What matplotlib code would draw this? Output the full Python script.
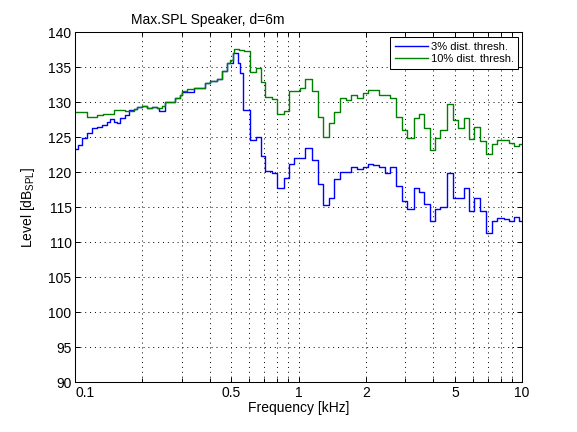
import numpy as np
import matplotlib.pyplot as plt
from matplotlib.ticker import FixedLocator, FixedFormatter, NullFormatter

plt.rcParams['font.family'] = ['Liberation Sans', 'DejaVu Sans']

# step start frequencies [kHz] and levels [dB SPL]
freq_3 = [0.100, 0.1035, 0.1073, 0.113, 0.119, 0.1253, 0.1319, 0.1389, 0.1437,
          0.1487, 0.1539, 0.1593, 0.1677, 0.1736, 0.1827, 0.189, 0.199, 0.210,
          0.221, 0.2324, 0.238, 0.2515, 0.2807, 0.2956, 0.3007, 0.3391, 0.3824,
          0.4026, 0.4312, 0.4541, 0.4781, 0.507, 0.535, 0.548, 0.564, 0.608,
          0.642, 0.681, 0.710, 0.760, 0.800, 0.857, 0.909, 0.957, 1.018, 1.071,
          1.148, 1.217, 1.285, 1.363, 1.434, 1.537, 1.629, 1.715, 1.824, 1.934,
          2.036, 2.151, 2.297, 2.443, 2.572, 2.736, 2.901, 3.054, 3.271, 3.444,
          3.651, 3.857, 4.089, 4.305, 4.612, 4.890, 5.146, 5.476, 5.766, 6.111,
          6.501, 6.892, 7.332, 7.720, 8.25, 8.764, 9.165, 9.650]
lev_3 = [123.4, 123.9, 124.85, 125.57, 126.29, 126.52, 126.76, 127.24, 127.57,
         127.24, 127.1, 127.8, 128.19, 128.9, 129.0, 129.3, 129.47, 129.19,
         129.38, 129.14, 128.75, 130.04, 130.57, 131.05, 131.5, 132.0, 132.71,
         133.05, 133.33, 134.52, 135.57, 137.1, 135.6, 134.14, 128.9, 124.6,
         124.99, 122.33, 120.19, 119.86, 117.71, 119.14, 121.19, 121.99, 122.1, 123.5,
         121.8, 118.4, 115.3, 116.4, 119.04, 120.0, 120.1, 120.8, 120.5, 120.8,
         121.14, 121.0, 120.8, 119.86, 120.8, 118.0, 115.9, 114.76, 117.7, 117.2,
         115.5, 113.04, 114.8, 115.0, 119.86, 116.4, 116.3, 117.7, 114.47, 116.4,
         114.52, 111.4, 113.04, 113.5, 113.4, 113.04, 113.6, 113.1]

freq_10 = [0.100, 0.113, 0.125, 0.134, 0.149, 0.168, 0.183, 0.189, 0.199, 0.210,
           0.221, 0.232, 0.245, 0.252, 0.281, 0.296, 0.301, 0.317, 0.339, 0.382,
           0.403, 0.431, 0.454, 0.478, 0.495, 0.507, 0.512, 0.539, 0.568, 0.608,
           0.642, 0.681, 0.710, 0.760, 0.800, 0.857, 0.909, 1.018, 1.071, 1.148,
           1.217, 1.285, 1.363, 1.434, 1.537, 1.629, 1.715, 1.824, 1.934, 2.036,
           2.297, 2.572, 2.736, 2.901, 3.054, 3.271, 3.444, 3.651, 3.857, 4.089,
           4.305, 4.612, 4.890, 5.146, 5.476, 5.805, 6.111, 6.501, 6.892, 7.332,
           7.720, 8.764, 9.165, 9.650]
lev_10 = [128.57, 127.95, 128.19, 128.4, 128.85, 128.76, 129.0, 129.3, 129.47, 129.19,
          129.38, 129.14, 129.47, 130.04, 130.57, 131.05, 131.66, 131.9, 132.0, 132.71,
          133.05, 133.33, 134.52, 135.57, 136.05, 137.09, 137.61, 137.47, 137.33, 134.38,
          134.86, 132.95, 130.8, 130.42, 128.28, 128.81, 131.62, 132.1, 133.4, 131.6,
          127.94, 125.1, 127.0, 128.6, 130.6, 130.3, 131.05, 130.6, 131.4, 131.7,
          131.1, 130.6, 127.94, 126.1, 124.86, 127.7, 128.3, 126.3, 123.2, 124.86,
          126.1, 129.7, 127.55, 126.4, 127.8, 124.7, 126.5, 124.5, 122.57, 124.0,
          124.6, 124.2, 123.7, 124.1]

f_max = 10.0

xticks = [0.1, 0.5, 1, 2, 5, 10]
xticklabels = ['0.1', '0.5', '1', '2', '5', '10']
xminor = [0.2, 0.3, 0.4, 0.6, 0.7, 0.8, 0.9, 3, 4, 6, 7, 8, 9]
yticks = list(range(90, 141, 5))

fig = plt.figure(figsize=(5.77, 4.32), dpi=100)
ax = fig.add_axes([0.13, 0.115, 0.775, 0.81])

ax.plot(freq_3 + [f_max], lev_3 + [lev_3[-1]], drawstyle='steps-post',
        color='#0000ff', lw=1.0, label='3% dist. thresh.')
ax.plot(freq_10 + [f_max], lev_10 + [lev_10[-1]], drawstyle='steps-post',
        color='#008000', lw=1.0, label='10% dist. thresh.')

ax.set_xscale('log')
ax.set_xlim(0.1, 10)
ax.set_ylim(90, 140)
ax.xaxis.set_major_locator(FixedLocator(xticks))
ax.xaxis.set_major_formatter(FixedFormatter(xticklabels))
ax.xaxis.set_minor_locator(FixedLocator(xminor))
ax.xaxis.set_minor_formatter(NullFormatter())
ax.set_yticks(yticks)

ax.grid(True, which='both', linestyle=(0, (1, 4)), color='k', lw=0.7)
ax.tick_params(which='both', direction='in', top=True, right=True,
               width=0.7, labelsize=10)
ax.tick_params(which='major', length=3.5)
ax.tick_params(which='minor', length=3)
ax.tick_params(axis='x', pad=2.5)
ax.tick_params(axis='y', pad=2.5)
for s in ax.spines.values():
    s.set_linewidth(0.75)

ax.xaxis.get_major_ticks()[0].label1.set_horizontalalignment('left')

ax.text(0.2975, 1.035, 'Max.SPL Speaker, d=6m', transform=ax.transAxes,
        ha='center', va='center', fontsize=10)
ax.set_xlabel('Frequency [kHz]', fontsize=10)
ax.xaxis.set_label_coords(0.5, -0.053)
ax.set_ylabel('Level [dB$_{\\mathregular{SPL}}$]', fontsize=10)
ax.yaxis.set_label_coords(-0.084, 0.5)

leg = ax.legend(loc='upper right', bbox_to_anchor=(0.9917, 0.9857),
                borderaxespad=0, fontsize=8, handlelength=3.0,
                handletextpad=0.25, borderpad=0.42, labelspacing=0.2,
                fancybox=False, framealpha=1)
leg.get_frame().set_edgecolor('k')
leg.get_frame().set_linewidth(0.75)

fig.savefig('out.png', dpi=100)
